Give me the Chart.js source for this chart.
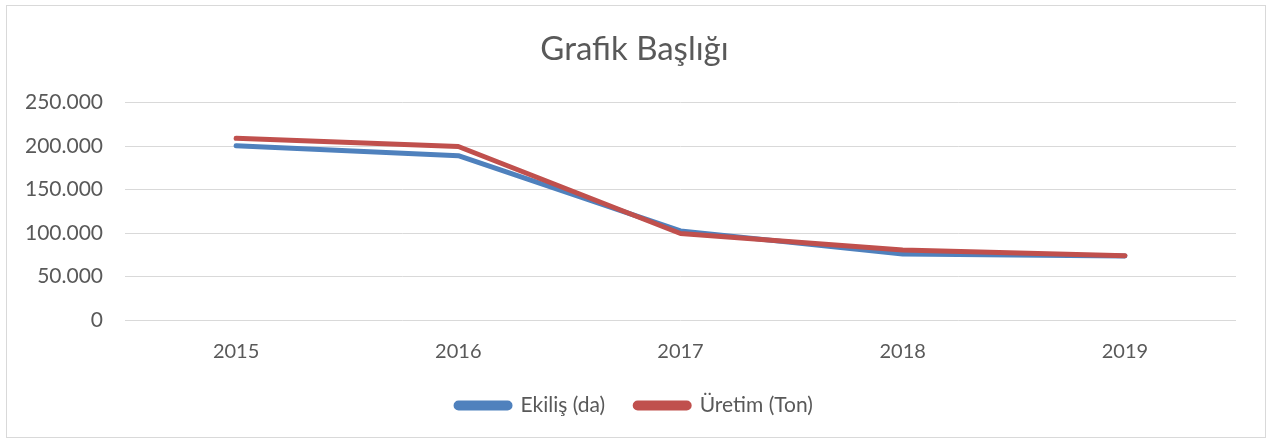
<!DOCTYPE html>
<html>
<head>
<meta charset="utf-8">
<script src="https://cdn.jsdelivr.net/npm/chart.js@4/dist/chart.umd.min.js"></script>
<style>
html,body{margin:0;padding:0;background:#fff;}
#wrap{position:absolute;left:0;top:0;width:1269px;height:439px;}
#frame{position:absolute;left:6px;top:5px;width:1258px;height:431px;border:1px solid #d9d9d9;pointer-events:none;}
</style>
</head>
<body>
<div id="wrap"><canvas id="c" width="1269" height="439"></canvas></div>
<div id="frame"></div>
<script>
const categories = ['2015', '2016', '2017', '2018', '2019'];
const ekilis = [200500, 189000, 102500, 76000, 73500];
const uretim = [209000, 199500, 99500, 80500, 74000];
const seriesNames = ['Ekiliş (da)', 'Üretim (Ton)'];
const titleText = 'Grafik Başlığı';

const FONT = 'Lato, "Open Sans", sans-serif';
const TXT = '#595959';

function fmt(v){
  return String(v).replace(/\B(?=(\d{3})+(?!\d))/g, '.');
}

// let the y-axis labels use the space to the left of the padded box
const labelRoom = {
  id: 'labelRoom',
  afterLayout(chart) { chart.scales.y.left = 0; }
};

new Chart(document.getElementById('c'), {
  type: 'line',
  data: {
    labels: categories,
    datasets: [
      {label: seriesNames[0], data: ekilis, borderColor: '#4f81bd', backgroundColor: '#4f81bd', borderWidth: 5, pointRadius: 0, tension: 0, order: 2, borderCapStyle: 'round', borderJoinStyle: 'round'},
      {label: seriesNames[1], data: uretim, borderColor: '#c0504d', backgroundColor: '#c0504d', borderWidth: 5, pointRadius: 0, tension: 0, order: 1, borderCapStyle: 'round', borderJoinStyle: 'round'}
    ]
  },
  plugins: [labelRoom],
  options: {
    responsive: false,
    animation: false,
    layout: {padding: {left: 33, right: 33, top: 30, bottom: 13}},
    plugins: {
      title: {display: true, text: titleText, color: TXT, font: {family: FONT, size: 33, weight: 'normal'}, padding: {top: 0, bottom: 33}},
      legend: {
        position: 'bottom',
        labels: {
          color: TXT, font: {family: FONT, size: 21},
          boxWidth: 54, boxHeight: 5, useBorderRadius: true, borderRadius: 2.5,
          padding: 30,
          sort: (a, b) => a.datasetIndex - b.datasetIndex
        }
      },
      tooltip: {enabled: false}
    },
    scales: {
      x: {
        offset: true,
        grid: {display: false, drawTicks: false},
        border: {display: false},
        ticks: {color: TXT, font: {family: FONT, size: 20}, padding: 20},
        afterFit: s => { s.height = s.height - 19; }
      },
      y: {
        min: 0, max: 250000,
        grid: {color: '#d9d9d9', lineWidth: 1, drawTicks: false},
        border: {display: false},
        ticks: {stepSize: 50000, color: TXT, font: {family: FONT, size: 21}, padding: 22, callback: v => fmt(v)},
        afterFit: s => { s.width = 92; }
      }
    }
  }
});
</script>
</body>
</html>
